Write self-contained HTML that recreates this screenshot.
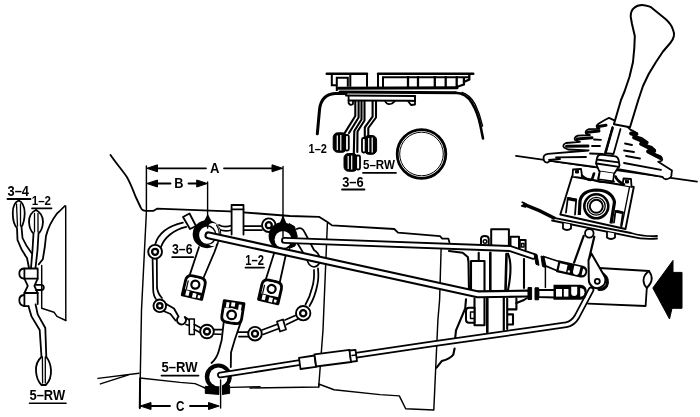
<!DOCTYPE html>
<html><head><meta charset="utf-8">
<style>
html,body{margin:0;padding:0;background:#fff;}
body{width:700px;height:417px;overflow:hidden;font-family:"Liberation Sans",sans-serif;}
svg{display:block;filter:blur(0.35px);}
.l{fill:none;stroke:#000;stroke-width:1.8;stroke-linecap:round;stroke-linejoin:round;}
.t{fill:none;stroke:#000;stroke-width:1.45;stroke-linecap:round;stroke-linejoin:round;}
.k{fill:none;stroke:#000;stroke-width:2.2;stroke-linecap:round;stroke-linejoin:round;}
.w{fill:#fff;stroke:#000;stroke-width:1.8;stroke-linejoin:round;stroke-linecap:round;}
.b{fill:#000;stroke:#000;stroke-width:1;stroke-linejoin:round;}
text{font-family:"Liberation Sans",sans-serif;font-weight:bold;fill:#000;font-size:14.5px;}
</style></head>
<body>
<svg width="700" height="417" viewBox="0 0 700 417">
<rect width="700" height="417" fill="#fff"/>

<!-- ===== GEARBOX HOUSING OUTLINES ===== -->
<g id="housing">
<path class="l" d="M110.500,155 C116,163 122,170 126.700,176.700 C130.500,183 133,190 135.300,196 L140.700,207.500 Q142,210.800 146,210.800 L153.600,210.800 L157,208.700 L230,211.300 L290,216 L319,216.800 L327.400,222 L332,225.400 L394.300,229 L398,232.600 L440,236.200 L442.300,238.600 L448.300,238.600 L449.500,242.500"/>
<path class="t" d="M146.4,166 L146.4,212 L141.5,310 L139.7,408"/>
<path class="t" d="M327.4,223 L323,330 L318.7,387"/>
<path class="t" d="M98,378.400 L139,373.200 M100.400,383.900 L128.600,374.900"/>
<path class="l" d="M140.100,379 L139.800,408" style="stroke-width:2"/>
<path class="t" d="M140,378 L180,382.400 L195,383.600 L201.500,386.300 L206,388.500 M230.600,387.400 L260,386.800"/>
<path class="t" d="M250,388 L318.7,387 L318.7,384 L334,389.700 L380,394.600 L399.300,395.900 L405.700,408.700 L433.800,410 L437.900,320 L439.600,300 L441.100,249.400"/>
</g>

<!-- placeholder sections follow -->
<g id="cover">
<!-- gasket ring: double lines -->
<path class="t" style="stroke-width:1.750" d="M182.9,222.7 C168,226 158,234 155,245 M186.2,226.9 C173,230 164,238 161,247"/>
<path class="w" d="M183,217 L189.5,213.5 L196,226 L190,229 Z"/>
<path class="t" style="stroke-width:1.750" d="M152.6,259 L153.2,290 Q153.5,296 156,299 M156.8,259 L157,288 Q158,294 162,298"/>
<path class="t" d="M165.800,303.800 L174,308.500 L178.600,316.600 A4.500,4.500 0 1 0 184.800,317 L189.300,320" style="stroke-width:1.900"/>
<path class="t" style="stroke-width:1.750" d="M163.500,311 L170.500,314 L175.500,320.500 M186,324.500 L189.300,325.500"/>
<path class="w" d="M189.300,319 L194.300,319 L194.300,334.500 L189.300,334.500 Z" style="stroke-width:1.500"/>
<path class="t" style="stroke-width:1.750" d="M194.300,324.500 L201,328 M194.300,329.500 L200.500,332.800"/>
<path class="t" style="stroke-width:1.750" d="M213,329.5 L224,329.5 M213,334 L225,334.5 M238,332 L249,332 M239,336.5 L249,336.5"/>
<path class="t" style="stroke-width:1.750" d="M262,330 L278,324 M263,334.5 L279,328.5"/>
<path class="w" d="M277,321.5 L283,319.5 L286,329.5 L280,331.5 Z"/>
<path class="t" style="stroke-width:1.750" d="M285,320 L296.5,315 M286.5,324.5 L298,319"/>
<path class="t" style="stroke-width:1.750" d="M318,268.4 Q319,278 317.3,285 Q315,297 309.5,306 M314,270 Q314.5,280 312.3,287 Q310,297 305.5,304.5"/>
<path class="t" style="stroke-width:1.750" d="M296.8,229 Q302,226 305,233 L314,250 M293,236 L307,259 M307,259 Q308,266 314,267 Q320,266 320,259 Q319,253 314,250"/>
<path class="t" style="stroke-width:1.750" d="M219,225 Q224,228 231.6,225.5 M219,229.5 Q225,232 231.6,230 M243.5,226 L261,226 M243.5,230 L262,230"/>
<path class="w" d="M231.6,234.5 L231.6,205 L243.5,205 L243.5,234.5"/>
<path class="t" style="stroke-width:1.750" d="M231.6,209.3 L243.5,209.3"/>
<!-- bosses -->
<g class="w" style="stroke-width:1.900"><circle cx="155.100" cy="251.800" r="6.900"/><circle cx="159.800" cy="305.800" r="6.300"/><circle cx="207" cy="331.500" r="6.800"/><circle cx="255" cy="333.700" r="6.800"/><circle cx="303.200" cy="313.200" r="7.200"/><circle cx="268.800" cy="225.200" r="6.800"/></g>
<g class="l" style="stroke-width:2.300"><circle cx="155.100" cy="251.800" r="3"/><circle cx="159.800" cy="305.800" r="2.700"/><circle cx="207" cy="331.500" r="3"/><circle cx="255" cy="333.700" r="3"/><circle cx="303.200" cy="313.200" r="3.100"/><circle cx="268.800" cy="225.200" r="3"/></g>
</g>

<g id="levers">
<!-- 3-6 lever arm -->
<path class="w" d="M196.5,256 L188.7,277 L203,278.5 L208.5,256 Z" style="stroke:none"/>
<path class="l" d="M199,247 L189.200,276.600 M217.800,243 L214.500,252 L203,279"/>
<g transform="translate(194.300,287) rotate(13)">
<path d="M-10,-4.500 Q-10,-10.500 -4,-10.500 L4,-10.500 Q10,-10.500 10,-4.500 L10,10.500 L-10,10.500 Z" fill="#fff" stroke="#000" stroke-width="2.800" stroke-linejoin="round"/>
<path d="M-10,4 L10,4 L10,10.500 L-10,10.500 Z" fill="#000"/>
<path d="M-7.300,-5 L-7.300,4" stroke="#000" stroke-width="1.200" fill="none"/>
<circle cx="0.500" cy="-2.500" r="6.600" fill="#fff"/>
<circle cx="0.500" cy="-2.500" r="4" fill="#fff" stroke="#000" stroke-width="2.200"/>
<rect x="-7" y="5" width="3.400" height="5" fill="#fff"/><rect x="0" y="6" width="3.800" height="4.500" fill="#fff"/><rect x="5.500" y="7" width="2.500" height="3" fill="#fff"/>
</g>
<!-- 1-2 lever arm -->
<path class="l" d="M274.5,252 L265,282 M286,254 L279.5,283.5"/>
<g transform="translate(270.600,291.300) rotate(13)">
<path d="M-10,-4.500 Q-10,-10.500 -4,-10.500 L4,-10.500 Q10,-10.500 10,-4.500 L10,10.500 L-10,10.500 Z" fill="#fff" stroke="#000" stroke-width="2.800" stroke-linejoin="round"/>
<path d="M-10,4 L10,4 L10,10.500 L-10,10.500 Z" fill="#000"/>
<path d="M-7.300,-5 L-7.300,4" stroke="#000" stroke-width="1.200" fill="none"/>
<circle cx="0.500" cy="-2.500" r="6.600" fill="#fff"/>
<circle cx="0.500" cy="-2.500" r="4" fill="#fff" stroke="#000" stroke-width="2.200"/>
<rect x="-7" y="5" width="3.400" height="5" fill="#fff"/><rect x="0" y="6" width="3.800" height="4.500" fill="#fff"/><rect x="5.500" y="7" width="2.500" height="3" fill="#fff"/>
</g>
<!-- 5-RW lever arm -->
<path class="w" d="M223.800,321.400 L219,350.200 L211.200,362.600 L230.600,367 L231,352.600 L240.600,322.600 Z" style="stroke:none"/>
<path class="l" d="M223.800,321.400 L221.700,340 L219,350.200 Q217,358 211.500,363 M240.600,322.600 L234.700,340 L231,352.600 L230.800,367"/>
<g transform="translate(232.500,312.500) rotate(9)">
<path d="M-10,-10.500 L10,-10.500 L10,5 Q10,10.500 4,10.500 L-4,10.500 Q-10,10.500 -10,5 Z" fill="#fff" stroke="#000" stroke-width="2.800" stroke-linejoin="round"/>
<path d="M-10,-10.500 L10,-10.500 L10,-3.500 L-10,-3.500 Z" fill="#000"/>
<circle cx="-0.500" cy="2.500" r="6.800" fill="#fff"/>
<circle cx="-0.500" cy="2.500" r="4.300" fill="#fff" stroke="#000" stroke-width="2.300"/>
<rect x="-7.500" y="-9.500" width="3" height="5.500" fill="#fff"/><rect x="-2.500" y="-10" width="3.800" height="4" fill="#fff"/><rect x="5" y="-9" width="3" height="5.500" fill="#fff"/>
</g>
<!-- pivots -->
<g>
<path d="M207.800,214 L203,223 L212.500,223 Z" fill="#000"/>
<ellipse cx="207" cy="234.200" rx="14.300" ry="14" fill="#000"/>
<ellipse cx="212.800" cy="234.500" rx="7.600" ry="11.600" fill="#fff"/>
<path d="M216.300,225 Q219.300,229 219.300,235 Q219.300,241 216.300,245" fill="none" stroke="#000" stroke-width="1.200"/>
<ellipse cx="207.100" cy="235.100" rx="8.700" ry="9.300" fill="#fff" stroke="#000" stroke-width="1.400"/>
</g>
<g>
<path d="M283,215 L278.500,226 L287.500,226 Z" fill="#000"/>
<path class="b" d="M289,223.500 L294.500,226.500 L297.200,236 L295,246 L289,248.500 Z"/>
<ellipse cx="282.100" cy="236" rx="13.500" ry="13.800" fill="#000"/>
<ellipse cx="283" cy="239.500" rx="8.400" ry="8.600" fill="#fff"/>
</g>
<g>
<path class="b" d="M205.300,386.300 L219.300,387.300 L219.300,394.400 L205.300,393.400 Z M222,386.300 L229.600,385.200 L229.600,393.400 L222,394.400 Z"/>
<ellipse cx="218.300" cy="376.800" rx="13.500" ry="13.200" fill="#000"/>
<ellipse cx="218.400" cy="376.900" rx="9.200" ry="9.400" fill="#fff"/>
<path d="M220.700,381 L220.700,395" stroke="#fff" stroke-width="2.600" fill="none"/>
</g>
</g>

<g id="bell">
<!-- pieces above rod 1 -->

<path class="w" style="stroke-width:2" d="M481,244.5 L481,239 Q481,236 484.800,236 Q488.700,236 488.700,239 L488.700,244.5"/>
<circle cx="485" cy="241.500" r="1.8" class="t"/>
<path class="w" style="stroke-width:2" d="M491.2,245.200 L491.2,229.3 L508.9,229.3 L508.9,245.600"/>
<path class="w" style="stroke-width:2" d="M510.5,246.500 L510.5,236.800 L519,236.800 L519,248 M519.800,248 L519.800,240 L525.600,240 L525.600,250"/>
<path class="t" d="M521.500,243.500 L524,243.500 L524,247 L521.500,247 Z"/>
<!-- below rod 1 -->

<path class="l" style="stroke-width:2.100" d="M449,251 L462.700,252.800 L467.800,257 L468.500,262 L469,292 M466,299.300 L465.200,308.500 L456,330.300 L455.200,338 M454.600,348.500 L453.300,354.700 Q450,359 441.700,361.100 L436.600,367.600"/>
<path class="l" style="stroke-width:2.100" d="M478.700,252.800 L478.700,260 M471,292 L471,261 L484.500,261 L484.500,292 "/>
<path class="k" d="M490.300,252.800 L490.300,291" style="stroke-width:2.600"/>
<path class="k" d="M506.500,254 L505.500,291" style="stroke-width:2.600"/><path class="l" style="stroke-width:2.100" d="M508,253.600 Q513,265 508,290"/>
<path class="l" style="stroke-width:2.100" d="M524,259 L524,288"/>
<!-- between rod 2 and rod 3 -->
<path class="l" style="stroke-width:2.100" d="M474.500,298.500 L474.500,325.300 L484.500,325.300 L484.500,298.500 "/>
<path class="k" d="M487.300,298.500 L487.300,332" style="stroke-width:2.600"/>
<path class="w" style="stroke-width:2" d="M474.500,307.700 L469,307.700 Q466,307.700 466,311 L466,319.500 Q466,322.800 469,322.800 L474.500,322.800 Z"/>
<path class="t" d="M470.500,312 L474.500,312 M470.500,318.500 L474.500,318.500 M470.500,312 L470.500,318.500"/>
<path class="k" d="M503.800,297.500 L503.800,330"/>
<path class="l" style="stroke-width:2.100" d="M507.200,298.500 L507.200,309.400 L516.400,309.400 L516.400,298.500 M507.200,314.400 L513,314.400 L513,324.500 L507.200,324.500 Z M507.200,309.400 L507.200,329"/>
<path class="l" style="stroke-width:2.100" d="M516.400,303 L524,300 L527,298"/>
</g>

<g id="tube">
<path d="M599,268 L649,271 C641,277 643,284 646.800,288 L645.600,306 L591,303.800 Z" fill="#fff"/>
<path class="l" d="M599,268 L649,271 C641,277 643,284 646.800,288 L645.600,306 L588,303.600"/>
<path class="l" d="M649,271 C654,278 651,284 646.800,288"/>
<path class="b" d="M652.800,288 L673,260.400 L673,272.400 L682,272.400 L682,308.300 L672,308.300 L669.500,319 Z"/>
<path class="w" d="M583.700,235.800 L574.100,262.600 L578,272 L590,262 L594.300,236.700 Z" style="stroke:none"/>
<path class="l" d="M583.700,235.800 L574.100,262.600 M594.300,236.700 L589.500,256.900" style="stroke-width:2.200"/>
<circle cx="589.300" cy="233.300" r="4.300" class="w"/>
</g>
<g id="rods">
<!-- rod 1 (from 1-2 pivot) -->
<path d="M284.500,240.400 L510,248.500 L533,256.300" fill="none" stroke="#000" stroke-width="6.900" stroke-linecap="round" stroke-linejoin="round"/>
<path d="M284.500,240.400 L510,248.500 L533,256.300" fill="none" stroke="#fff" stroke-width="3.100" stroke-linecap="round" stroke-linejoin="round"/>
<!-- rod 2 (from 3-6 pivot) -->
<path d="M208.500,235.400 L478,294.300 L527,293.600" fill="none" stroke="#000" stroke-width="8" stroke-linecap="round" stroke-linejoin="round"/>
<path d="M208.500,235.400 L478,294.300 L527,293.600" fill="none" stroke="#fff" stroke-width="3.800" stroke-linecap="round" stroke-linejoin="round"/>
<!-- rod 3 (from 5-RW pivot) -->
<path d="M220.400,375 L300,362.500 M356,355.300 L430,344.300 L530,330 L566,324.800 Q573,323.500 577,316.500 L591,290" fill="none" stroke="#000" stroke-width="6.600" stroke-linecap="round" stroke-linejoin="round"/>
<path d="M220.400,375 L300,362.500 M356,355.300 L430,344.300 L530,330 L566,324.800 Q573,323.500 577,316.500 L591,290" fill="none" stroke="#fff" stroke-width="3.100" stroke-linecap="round" stroke-linejoin="round"/>
<!-- adjuster sleeve on rod 3 -->
<path class="w" d="M299,357.800 L314.500,355.500 L316,366.800 L300.500,369 Z"/>
<path class="w" d="M314.500,354.300 L349.500,349.800 L351.200,362 L316.200,366.500 Z"/>
<path class="w" d="M349.500,350.500 L355.500,349.800 L357,361 L351,361.800 Z"/>
<path class="t" d="M352,355.500 L356,355"/>
<!-- rod 1 end: nut, clevis -->
<path class="t" d="M545.400,265.500 L545.400,287.600"/>
<path class="b" d="M534,253.500 L537,254.500 L539,265.300 L536,264.300 Z M541,256 L544,257 L545.500,267.500 L542.500,266.500 Z"/>
<path class="w" d="M543.500,256.500 L559,261.500 L559,271.500 L545.500,265.800 Z"/>
<g transform="translate(558.600,260.300) rotate(12.500)">
<path d="M0,0 L25,0 Q30.500,0.500 30.500,6 Q30.500,11.800 25,12 L0,12 Z" fill="#000"/>
<rect x="2.200" y="2.600" width="7.600" height="7.200" fill="#fff"/>
<path d="M16.500,1.600 L22.800,1.600 L22.800,7.500 Q22.800,10.500 19.600,10.500 Q16.500,10.500 16.500,7.500 Z" fill="#fff"/>
<path d="M25.600,2.600 Q28.600,3 28.600,6 Q28.600,9.200 25.600,9.600 Z" fill="#fff"/>
<rect x="11.300" y="7.600" width="2.200" height="2.200" fill="#fff"/>
</g>
<!-- rod 2 end: nut, clevis -->
<path class="b" d="M528,287.500 L531.600,287.500 L531.600,299.500 L528,299.500 Z M535,287.800 L538.600,287.800 L538.600,299.800 L535,299.800 Z"/>
<path class="w" d="M538.500,290 L555,290 L555,297.500 L538.500,297 Z"/>
<path d="M553.500,284.800 L581,284.800 Q586.800,285.300 586.800,292.300 Q586.800,299.300 581,299.800 L553.500,299.800 Z" fill="#000"/>
<rect x="556" y="289" width="6" height="7.600" fill="#fff"/>
<rect x="563.800" y="289" width="4.600" height="7.600" fill="#fff"/>
<path d="M571.200,286.800 L577.200,286.800 L577.200,293 Q577.200,296 574.200,296 Q571.200,296 571.200,293 Z" fill="#fff"/>
<path d="M580.200,288 Q584.500,288.500 584.500,292.300 Q584.500,296.300 580.200,296.800 Z" fill="#fff"/>
</g>

<g id="lever">
<!-- floor line -->
<path class="l" d="M516,155.900 L697,181.700"/>
<!-- curved plate -->
<path d="M522.800,203.800 Q540,210 555,218.500" class="k" style="stroke-width:3.400;stroke-linecap:butt"/>
<path class="l" d="M522.300,202.300 L526,204 M521.800,205.800 L525.500,206.800"/>
<path class="l" d="M553.900,217.800 L631,233 Q645,237 657,236 M552,220.500 L630,236.300 Q645,240 657,238.500"/>
<!-- bolts under plate -->
<path class="w" d="M563,223 L563,228.500 Q567,231.500 571,228.500 L571,224.500"/>
<path class="w" d="M607,232 L607,237.500 Q611,240.500 615,237.500 L615,233.500"/>
<!-- link plate -->
<path d="M603,274 Q609.500,279 606.500,286 Q604,290 599,289.500" fill="none" stroke="#000" stroke-width="3" stroke-linecap="round"/>
<path class="w" d="M591.400,253.500 L603.500,274.500 Q607.500,280.500 603.500,285.500 Q599,289.500 593.500,287.500 Q588.500,284.500 588.800,279 L588.500,260 Z" style="stroke-width:2"/>
<circle cx="597.300" cy="281.300" r="2.500" class="l"/>
<!-- housing -->
<path class="w" d="M572,176.500 L633.800,187 L625.500,229 L560.300,214.500 Z" style="stroke-width:1.900"/>
<path class="l" d="M629.500,187 L621.500,227.500" style="stroke-width:1.300"/>
<path class="w" d="M572.500,176.500 L573,169.500 L581,168.800 L582,175.500" style="stroke-width:1.800"/>
<path class="w" d="M622.500,185 L623.500,178.500 L631,179 L631.500,186.500" style="stroke-width:1.800"/>
<path d="M582,175.800 Q588,181 592,179.500 L594,173.500 M615.500,176.500 Q617,181 624,184.500" fill="none" stroke="#000" stroke-width="2.600" stroke-linecap="round"/>
<path class="l" d="M593,180 Q603,184 614,181.500 M599.500,173 L598,179 M613.500,175.500 L613,180.500"/>
<path class="b" d="M575.500,170.500 L578.500,170.300 L578.500,173 L575.500,173 Z M625.500,180.200 L628.500,180.400 L628.500,183 L625.500,183 Z"/>
<!-- arch & lugs -->
<path class="l" d="M567.800,198 L576.200,199.500 L575,214.500 M566,212.500 L567.800,198"/>
<path d="M568,198.800 L576,200.300" stroke="#000" stroke-width="3" fill="none"/>
<path class="l" d="M615.500,211 L623,212.500 L621,226 M615.500,211 L614,222.500"/>
<path d="M616,211.300 L622.500,212.600" stroke="#000" stroke-width="2.800" fill="none"/>
<path d="M579.300,215 L580,201 Q582,190.500 596.500,190 Q612,190.500 614.500,202 L611,223.500" fill="none" stroke="#000" stroke-width="3.200" stroke-linecap="butt"/>
<circle cx="596.300" cy="206.300" r="12" class="w" style="stroke-width:2.600"/>
<circle cx="596.300" cy="206.300" r="8.900" class="w" style="stroke-width:1.300"/>
<circle cx="596.300" cy="206.300" r="6.500" class="w" style="stroke-width:1.900"/>
<!-- boot -->
<path class="w" d="M609,117.900 L605.700,119.500 L599.300,123.200 Q595.500,125.500 597,127.500 L599.500,128.800 L588.600,129.200 Q584.500,131 586,133.500 L590,135 L577.900,135.600 Q573.500,137.500 575,140 L580,141.800 L566,143 Q562,145 564,147.500 L568,149.500 L588.600,150.500 L547.900,153.900 Q543,155 543.600,158.500 Q544,162.800 547.500,162.600 L550.500,160.800 L595,167 L619.600,169.300 L662.500,176.800 Q664,180 667.500,179 Q672,177.500 671.500,174 L672,170.400 L658.200,161.800 Q663.500,161 661.900,158.500 L660.400,156 L650.700,152.600 Q656.500,152.500 655,150.400 L651.800,146.800 L643.200,144 Q648.500,144 647.500,141.900 L642.100,138.200 L632.500,135 Q637,134.500 635.700,132.400 L630.400,129.600 L627,126.400 Z" style="stroke-width:1.800"/>
<!-- boot fold marks -->
<path d="M598.500,126.500 L606,125.300 M587.500,132.300 L599,131 M577,139 L592,137.800 M566.500,146.200 L588,146" fill="none" stroke="#000" stroke-width="3" stroke-linecap="round"/>
<path d="M631,133.500 L636.500,134 M634,137.500 L646.500,142.800 M641,143.800 L654,150.200 M648,151.500 L660.500,158" fill="none" stroke="#000" stroke-width="3.800" stroke-linecap="round"/>
<path class="l" d="M556,157.300 L586,157 M549,160 L560,159 M590,153.500 L603,154 M592,146 L600,146 M594,139.500 L601,139.800 M626,156 L640,158.500 M624,150.500 L634,152 M624,163 L661,169.800 M625,143.500 L632,145"/>
<!-- lever shaft/knob -->
<path class="w" d="M613.900,124.300 L621,100 L624.700,91 L629.500,76.700 L633,62 L634.300,48 L634.800,36 L632,24 L630.700,16.800 Q630.500,11 634,8 Q638,4.500 644,5.200 Q649,6 651,7.200 L665.500,19 Q671,24 672.700,28.800 Q674.500,33 673.900,36 Q673,40 670.300,43 L663,51.500 L656,62 L648.700,74 L643,86 L638.300,100 L630,127.300 Z" style="stroke-width:2"/>
<!-- rod under grip -->
<path class="w" d="M612.500,127 L605.700,153.200 L613.500,154 L620.500,129"/>
<path class="k" d="M612.600,128 L605.300,153" style="stroke-width:2.600"/>
<!-- collar -->
<path class="w" d="M601,154.500 L615.400,156.400 Q618,157 618.600,160 L619.500,165.500 L614.300,173.600 L599.300,171.400 L596,163.500 L597,158 Q598,154.500 601,154.500 Z" style="stroke-width:1.800"/>
<path class="l" d="M596.800,159.500 L618.600,162.300 M596.300,163.500 L619.200,166.800"/>
<path class="w" d="M599.800,171.500 L598.500,179.300 L613,181.300 L614,173.500" style="stroke-width:1.600"/>
</g>

<g id="inset_top">
<!-- top plate -->
<path class="k" d="M326.800,73.700 L367,73.700 M378,73.700 L473.200,73.700" style="stroke-width:2.600"/>
<g fill="none" stroke="#000" stroke-width="2" stroke-linejoin="miter">
<path d="M331.800,74.300 L331.800,85.200 L336.800,85.200 M336.800,91 L336.800,77.800 L347.800,77.800 L347.800,86.800 M350.300,74.300 L350.300,86.800 M367,74 L367,86.800 M378,74 L378,87.700 M383,87 L383,77.300 L469,77.300"/>
<path d="M408,76 L408,87 M418,76 L418,87 M434.800,76 L434.800,87 M445.700,76 L445.700,87 M456.700,76 L456.700,87 L463.900,84.500 L463.900,77 M469.300,75 L469.300,79.500 L463.900,82" stroke-width="2.300"/>
</g>
<path class="k" d="M338.500,88.300 L457,87.700 M340,92 L455.500,92.700" style="stroke-width:3.100"/>
<path class="l" d="M346,95.600 L415.200,96 M348.600,100.500 L410,100.800 L415,101 L415,96" style="stroke-width:2"/>
<path class="l" d="M348.600,96 L348.600,103 Q350,106 353,104 L353,101 M385,101 Q387,105.500 392,103.500 L395,101 M408,101 L411,105 L415,104.500 L415,101"/>
<!-- arch -->
<path class="k" d="M317.300,133.800 L319.500,110 Q321,94.500 335,93.600 L346,93.600" style="stroke-width:3"/>
<path class="k" d="M455.500,92.700 Q466,93 472,103 Q478,113 480.500,126 L483,138.500" style="stroke-width:2.600"/>
<path class="t" d="M462,92.500 Q470,95 475,104 Q480,114 482.500,126"/>
<!-- levers inside inset -->
<g fill="none" stroke="#000" stroke-width="2.100" stroke-linejoin="round" stroke-linecap="round">
<path d="M355.300,101 L355.300,116 L344.500,133.400 M358.600,101 L358.600,117.500 L349,133"/>
<path d="M361.500,101 L361.500,119.500 L354.300,131 L353.800,154 M364.500,101 L364.500,120.500 L357.500,131.500 L357.300,152"/>
<path d="M372.600,101 L372.600,116.600 L364.800,127.400 L364.800,137 M376,101 L376,117.500 L368.300,128 L368.300,136"/>
</g>
<!-- knobs -->
<g>
<rect x="333.200" y="132.800" width="13.500" height="19.500" rx="4.500" class="b"/>
<path d="M337.300,135.500 L337.300,150 M340.800,135 L340.800,150.500" stroke="#fff" stroke-width="1.200" fill="none"/>
<rect x="345.200" y="135" width="3.600" height="15.500" rx="1.500" class="w"/>
</g>
<g>
<rect x="344" y="153.500" width="13.500" height="17.800" rx="4.500" class="b"/>
<path d="M348.200,156 L348.200,169 M351.700,155.500 L351.700,169.500" stroke="#fff" stroke-width="1.200" fill="none"/>
<rect x="356.200" y="155.500" width="3.800" height="14" rx="1.500" class="w"/>
</g>
<g>
<rect x="364.300" y="135.500" width="12.300" height="18.800" rx="4.500" class="b"/>
<path d="M368.700,138 L368.700,152 M372.200,137.500 L372.200,152.500" stroke="#fff" stroke-width="1.200" fill="none"/>
<rect x="362" y="138" width="3.600" height="14.500" rx="1.500" class="w"/>
</g>
<!-- circle -->
<circle cx="421.500" cy="154" r="24.300" fill="none" stroke="#000" stroke-width="2.800"/>
<circle cx="421.500" cy="154" r="21.800" fill="none" stroke="#000" stroke-width="1"/>
<!-- labels -->
<text transform="translate(308.600,153.300) scale(0.82,1)" style="font-size:13.4px">1–2</text>
<text transform="translate(363,169.300) scale(0.89,1)" style="font-size:13px">5–RW</text>
<path class="l" d="M363,172.800 L396,172.800"/>
<text transform="translate(342.200,187) scale(0.92,1)" style="font-size:14px">3–6</text>
<path class="l" d="M342,189.500 L364.500,189.500"/>
</g>

<g id="inset_left">
<text transform="translate(7.500,196) scale(0.92,1)" style="font-size:14px">3–4</text>
<path class="l" d="M7.500,199 L30.500,199"/>
<text transform="translate(31.800,205) scale(0.86,1)" style="font-size:13.4px">1–2</text>
<path class="l" d="M32,208.300 L51.500,208.300"/>
<!-- left lobe (3-4) -->
<path class="l" d="M18.700,200.500 Q12.500,203 12.800,214 Q13,224 17,228 L17.500,240 Q21,250 27,258 L29,268"/>
<path class="l" d="M18.700,200.500 Q24.500,203 24.700,213 Q24.500,222 21.500,227 L22.500,238 Q26,246 31.500,253"/>
<path class="l" d="M16.500,204 L17.500,226 M20.500,204 L20.500,226" style="stroke-width:1.300"/>
<!-- right lobe (1-2) -->
<path class="l" d="M36,210 Q29,213 29,222 Q29.500,230 33.500,233.500 L32.500,250 L31,268"/>
<path class="l" d="M36,210 Q43,213.500 43,222 Q42.500,230 38.500,233.500 L37.500,250 L35.500,268"/>
<path class="l" d="M34.500,213.500 L34.500,232 M38,213.500 L38,232" style="stroke-width:1.300"/>
<!-- curved shape right -->
<path class="l" d="M64.800,206 Q60,211 57,213.500 Q49,224 46,236 L44.800,247 L42.800,259.300 L38.700,264.400"/>
<path class="t" d="M65.700,206 L65.800,320.500"/>
<path class="t" d="M41.700,265.400 L41.700,308.300 L54,312.300 L57,316.400 L65.800,320.500"/>
<!-- middle body -->
<path class="l" d="M24,268.500 Q19.300,269 19.300,273.500 Q19.300,278 24,278.700"/>
<path class="l" d="M24.400,268.500 L37.700,268.500 L37.700,278.700 L24.400,278.700 Z"/>
<path class="l" d="M24.400,278.700 L27.800,285.800 L24.400,293 M37.700,278.700 L34.400,285.800 L37.700,293"/>
<path class="l" d="M35.600,284.800 L41,284.800 Q43.800,285 43.800,287.400 Q43.800,290 41,290 L36,290"/>
<path class="l" d="M24,295 Q19.300,295.500 19.300,300 Q19.300,305 24,306"/>
<path class="l" d="M24.400,293 L37.700,293 L37.700,304 M24.400,293 L24.400,306 L28.500,306.200"/>
<!-- 5-RW lever -->
<path class="l" d="M28.500,306.200 L31.500,316.400 L39.700,330 L41.500,357 M35.600,304.500 L37.700,314.400 L45.300,328 L46.300,357"/>
<path class="l" d="M41.500,357 Q35.500,362 36,371 Q36.500,380 41.500,385 L46,385 Q51.500,379 51,370 Q50.500,362 46.300,357"/>
<path class="l" d="M42.400,357 L42.600,383 M45.300,357 L45.300,383" style="stroke-width:1.300"/>
<text transform="translate(29.500,400) scale(0.89,1)" style="font-size:14.5px">5–RW</text>
<path class="l" d="M29.500,403.300 L66,403.300" style="stroke-width:1.600"/>
</g>

<g id="dims">
<!-- A -->
<path class="t" d="M283,166.500 L283,237 M207.600,182 L207.600,228" style="stroke-width:1.400"/>
<path class="l" d="M155,168.300 L206,168.300 M224,168.300 L274,168.300"/>
<path class="b" d="M146.800,168.300 L157.500,164.800 L157.500,171.800 Z M282.600,168.300 L272,164.800 L272,171.800 Z"/>
<text transform="translate(210,173.200) scale(0.9,1)" style="font-size:14.5px">A</text>
<!-- B -->
<path class="l" d="M156,183.500 L170.500,183.500 M188.500,183.500 L198,183.500"/>
<path class="b" d="M146.800,183.500 L157.500,180 L157.500,187 Z M207.300,183.500 L196.700,180 L196.700,187 Z"/>
<text transform="translate(174.300,188.300) scale(0.88,1)" style="font-size:14.5px">B</text>
<!-- C -->
<path class="t" d="M220.600,380 L220.600,408" style="stroke-width:1.400"/>
<path class="l" d="M149,406 L170,406 M190,406 L210,406"/>
<path class="b" d="M140.300,406 L151,402.500 L151,409.500 Z M219.200,406 L208.500,402.500 L208.500,409.500 Z"/>
<text transform="translate(176,410.800) scale(0.8,1)" style="font-size:14.5px">C</text>
<!-- labels in main -->
<text transform="translate(172,254.400) scale(0.85,1)" style="font-size:14.5px">3–6</text>
<path class="l" d="M172.200,257.200 L193.200,257.200"/>
<text transform="translate(245.300,264.500) scale(0.80,1)" style="font-size:14px">1–2</text>
<path class="l" d="M245.500,267.600 L264,267.600"/>
<text transform="translate(161.500,372.200) scale(0.90,1)" style="font-size:14.5px">5–RW</text>
<path class="l" d="M161.500,375.600 L198.500,375.600"/>
</g>

</svg>
</body></html>
